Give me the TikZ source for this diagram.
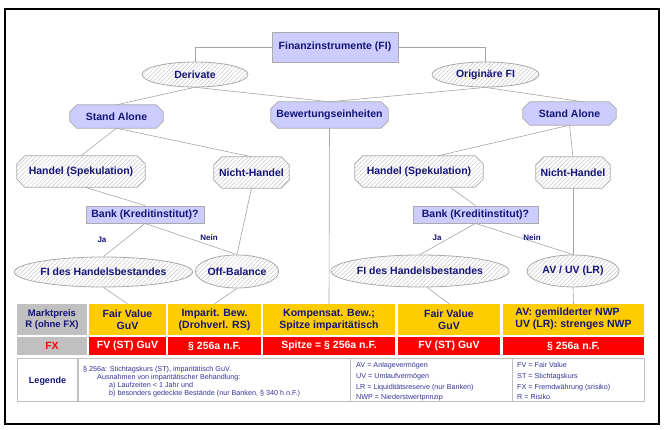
\documentclass[tikz,border=0pt]{standalone}
\usepackage{fontspec}
\setmainfont{Liberation Sans}
\usetikzlibrary{shapes.geometric,patterns.meta,calc,backgrounds}
\definecolor{navy}{RGB}{20,20,120}
\definecolor{lav}{RGB}{204,204,255}
\definecolor{bord}{RGB}{170,170,170}
\definecolor{hatch}{RGB}{200,200,200}
\definecolor{connc}{RGB}{165,165,165}
\definecolor{gelb}{RGB}{255,204,0}
\definecolor{rot}{RGB}{255,0,0}
\definecolor{grau}{RGB}{192,192,192}
\definecolor{legtext}{RGB}{51,51,153}
\newcommand\octdraw[3]{\path[#3] ($(#1.north west)+(#2,0)$) -- ($(#1.north east)+(-#2,0)$) -- ($(#1.north east)+(0,#2)$) -- ($(#1.south east)+(0,-#2)$) -- ($(#1.south east)+(-#2,0)$) -- ($(#1.south west)+(#2,0)$) -- ($(#1.south west)+(0,-#2)$) -- ($(#1.north west)+(0,#2)$) -- cycle;}
\tikzset{
 base/.style={inner sep=0pt, text=navy, font=\fontsize{10.5}{12}\selectfont\bfseries, draw=bord, line width=0.8pt},
 lavbox/.style={base, rectangle, fill=lav},
 octnode/.style={inner sep=0pt, text=navy, font=\fontsize{10.5}{12}\selectfont\bfseries, rectangle},
 lavfill/.style={fill=lav, draw=bord, line width=0.8pt},
 hatchfill/.style={draw=bord, line width=0.8pt, preaction={fill=white}, pattern={Lines[angle=45,distance=3pt,line width=0.5pt]}, pattern color=hatch},
 hatchell/.style={base, ellipse, preaction={fill=white}, pattern={Lines[angle=45,distance=3pt,line width=0.5pt]}, pattern color=hatch},
 connl/.style={draw=connc, line width=0.6pt},
 cell/.style={inner sep=0pt, align=center, font=\fontsize{10.5}{12}\selectfont\bfseries},
 ycell/.style={cell, fill=gelb, text=navy, minimum height=31pt},
 rcell/.style={cell, fill=rot, text=white, minimum height=18pt},
 gcell/.style={cell, fill=grau},
 lbl/.style={inner sep=0pt, text=navy, font=\fontsize{8}{9}\selectfont\bfseries},
 legt/.style={inner sep=0pt, text=legtext, font=\fontsize{7.2}{8}\selectfont, anchor=base west},
}
\begin{document}
\begin{tikzpicture}[x=1pt,y=-1pt]
\useasboundingbox (0,0) rectangle (665,430);
\draw[line width=1.2pt] (5,9) rectangle (659,424);
% top
\node[lavbox, minimum width=126pt, minimum height=30pt] (fi) at (335,47) {Finanzinstrumente (FI)};
\node[hatchell, minimum width=106pt, minimum height=25pt] (der) at (195,74.5) {Derivate};
\node[hatchell, minimum width=107pt, minimum height=25pt] (ofi) at (485.5,74.5) {Originäre FI};
\node[octnode, minimum width=93pt, minimum height=23pt] (sal) at (116.5,116.5) {Stand Alone};
\node[octnode, minimum width=117pt, minimum height=26pt] (be) at (329.5,115) {Bewertungseinheiten};
\node[octnode, minimum width=93pt, minimum height=23pt] (sar) at (569.5,113.5) {Stand Alone};
% left branch
\node[octnode, minimum width=128pt, minimum height=31pt] (hl) at (81,171.5) {Handel (Spekulation)};
\node[octnode, minimum width=75pt, minimum height=31pt] (nhl) at (251.5,172.5) {Nicht-Handel};
\node[lavbox, minimum width=118pt, minimum height=17pt] (bl) at (145,214.5) {Bank (Kreditinstitut)?};
\node[hatchell, minimum width=167pt, minimum height=30pt] (fhl) at (103.5,272) {FI des Handelsbestandes};
\node[hatchell, minimum width=68pt, minimum height=33pt] (ob) at (237,271.5) {Off-Balance};
\node[lbl] (jal) at (102,240) {Ja};
\node[lbl] (nel) at (209,238) {Nein};
% right branch
\node[octnode, minimum width=128pt, minimum height=31pt] (hr) at (419,171.5) {Handel (Spekulation)};
\node[octnode, minimum width=74pt, minimum height=31pt] (nhr) at (573,172.5) {Nicht-Handel};
\node[lavbox, minimum width=125pt, minimum height=17pt] (br) at (475.5,214.5) {Bank (Kreditinstitut)?};
\node[hatchell, minimum width=166pt, minimum height=32pt] (fhr) at (420,271) {FI des Handelsbestandes};
\node[hatchell, minimum width=92pt, minimum height=32pt] (av) at (573,271) {AV / UV (LR)};
\node[lbl] (jar) at (437,238) {Ja};
\node[lbl] (ner) at (532,238) {Nein};
% table
\node[gcell, text=navy, minimum width=70pt, minimum height=31pt, font=\fontsize{9.5}{11.5}\selectfont\bfseries] (c0) at (52,319.5) {Marktpreis\\R (ohne FX)};
\node[ycell, minimum width=77pt] (c1) at (127.5,319.5) {Fair Value\\GuV};
\node[ycell, minimum width=93pt] (c2) at (214.5,319.5) {Imparit. Bew.\\(Drohverl. RS)};
\node[ycell, minimum width=132pt] (c3) at (329,319.5) {Kompensat. Bew.;\\Spitze imparitätisch};
\node[ycell, minimum width=102pt] (c4) at (449,319.5) {Fair Value\\GuV};
\node[ycell, minimum width=141pt] (c5) at (573.5,319.5) {\begin{tabular}{@{}l@{}}AV: gemilderter NWP\\UV (LR): strenges NWP\end{tabular}};
\node[gcell, text=rot, minimum width=70pt, minimum height=18pt] (d0) at (52,346) {FX};
\node[rcell, minimum width=77pt] (d1) at (127.5,346) {FV (ST) GuV};
\node[rcell, minimum width=93pt] (d2) at (214.5,346) {§ 256a n.F.};
\node[rcell, minimum width=132pt] (d3) at (329,346) {Spitze = § 256a n.F.};
\node[rcell, minimum width=102pt] (d4) at (449,346) {FV (ST) GuV};
\node[rcell, minimum width=141pt] (d5) at (573.5,346) {§ 256a n.F.};
% legend
\draw[grau, line width=1pt] (17,359) rectangle (644,402);
\draw[grau, line width=1.5pt] (78,359) -- (78,402);
\draw[grau, line width=0.7pt] (350,359) -- (350,402);
\draw[grau, line width=0.7pt] (512,359) -- (512,402);
\node[inner sep=0pt, text=navy, font=\fontsize{9}{10}\selectfont\bfseries] (leg) at (47.5,381) {Legende};
\node[legt] (l1) at (83,372) {§ 256a: Stichtagskurs (ST), imparitätisch GuV.};
\node[legt] (l2) at (97,380) {Ausnahmen von imparitätischer Behandlung:};
\node[legt] (l3) at (109,388) {a) Laufzeiten < 1 Jahr und};
\node[legt] (l4) at (109,396) {b) besonders gedeckte Bestände (nur Banken, § 340 h n.F.)};
\node[legt] (l5) at (356,367.5) {AV = Anlagevermögen};
\node[legt] (l6) at (356,378.5) {UV = Umlaufvermögen};
\node[legt] (l7) at (356,389.5) {LR = Liquiditätsreserve (nur Banken)};
\node[legt] (l8) at (356,399.5) {NWP = Niederstwertprinzip};
\node[legt] (l9) at (517,367.5) {FV = Fair Value};
\node[legt] (l10) at (517,378.5) {ST = Stichtagskurs};
\node[legt] (l11) at (517,389.5) {FX = Fremdwährung (srisiko)};
\node[legt] (l12) at (517,399.5) {R = Risiko};
% connectors and octagon outlines
\begin{scope}[on background layer]
\draw[connl] (fi.west) -| (der.north);
\draw[connl] (fi.east) -| (ofi.north);
\draw[connl] (der.south) -- (sal.north);
\draw[connl] (der.south) -- (be.north);
\draw[connl] (ofi.south) -- (be.north);
\draw[connl] (ofi.south) -- ($(sar.north)+(13,0)$);
\draw[connl] (be.south) -- (c3.north);
\draw[connl] (sal.south) -- (hl.north);
\draw[connl] (sal.south) -- (nhl.north);
\draw[connl] ($(hl.south)+(4,0)$) -- (bl.north);
\draw[connl] (bl.south) -- (fhl.north);
\draw[connl] (bl.south) -- (ob.north);
\draw[connl] (nhl.south) -- (ob.north);
\draw[connl] (fhl.south) -- (c1.north);
\draw[connl] (ob.south) -- (c2.north);
\draw[connl] (sar.south) -- ($(hr.north)+(19,0)$);
\draw[connl] (sar.south) -- (nhr.north);
\draw[connl] ($(hr.south)+(31,0)$) -- (br.north);
\draw[connl] (br.south) -- (fhr.north);
\draw[connl] (br.south) -- (av.north);
\draw[connl] (nhr.south) -- (av.north);
\draw[connl] ($(fhr.south)+(7,0)$) -- (c4.north);
\draw[connl] (av.south) -- (c5.north);
\octdraw{sal}{7}{lavfill}
\octdraw{be}{7}{lavfill}
\octdraw{sar}{7}{lavfill}
\octdraw{hl}{8}{hatchfill}
\octdraw{nhl}{8}{hatchfill}
\octdraw{hr}{8}{hatchfill}
\octdraw{nhr}{8}{hatchfill}
\end{scope}
\end{tikzpicture}
\end{document}
